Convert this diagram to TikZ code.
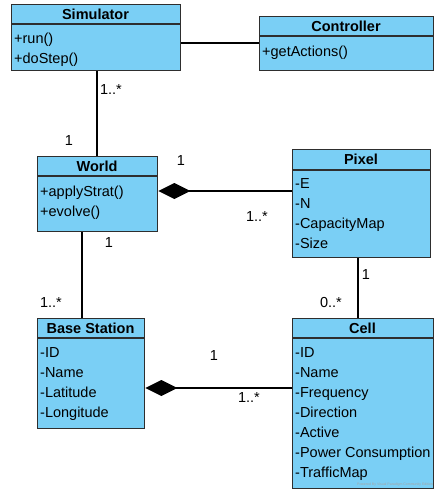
\documentclass[tikz,border=0pt]{standalone}
\usepackage{fontspec}
\setmainfont{Liberation Sans}
\usetikzlibrary{arrows.meta}
\definecolor{clsfill}{HTML}{7ACFF5}
\definecolor{clsline}{HTML}{2E2E2E}
\begin{document}
\begin{tikzpicture}[x=1pt,y=-1pt,
  clsbox/.style={draw=clsline, fill=clsfill, line width=1.3pt, inner sep=0pt, anchor=north west},
  septl/.style={draw=clsline, line width=1.3pt},
  titletext/.style={font=\fontsize{14.5}{17}\selectfont\bfseries, inner sep=0pt, text height=10.4pt, text depth=0pt},
  attr/.style={font=\fontsize{14.5}{17}\selectfont, inner sep=0pt, text height=10.4pt, text depth=0pt, anchor=west},
  mult/.style={font=\fontsize{14.5}{17}\selectfont, inner sep=0pt, text height=10.4pt, text depth=0pt},
  conn/.style={draw=black, line width=1.2pt},
  comp/.style={conn, -{Diamond[length=32pt,width=16pt]}}
]
\useasboundingbox (0,0) rectangle (434,491);

% Simulator
\node[clsbox, minimum width=169pt, minimum height=66pt] (sim) at (11,4) {};
\draw[septl] (sim.west |- 0,24) -- (sim.east |- 0,24);
\node[titletext] (simT) at (95.5,14.5) {Simulator};
\node[attr] (simA1) at (14,38.5) {+run()};
\node[attr] (simA2) at (14,58.5) {+doStep()};

% Controller
\node[clsbox, minimum width=174pt, minimum height=54pt] (ctrl) at (259,16) {};
\draw[septl] (ctrl.west |- 0,36) -- (ctrl.east |- 0,36);
\node[titletext] (ctrlT) at (346,26.5) {Controller};
\node[attr] (ctrlA1) at (262,51.5) {+getActions()};

% World
\node[clsbox, minimum width=120pt, minimum height=75pt] (world) at (37,156) {};
\draw[septl] (world.west |- 0,176) -- (world.east |- 0,176);
\node[titletext] (worldT) at (97,166.5) {World};
\node[attr] (worldA1) at (40,191.5) {+applyStrat()};
\node[attr] (worldA2) at (40,211.5) {+evolve()};

% Pixel
\node[clsbox, minimum width=138pt, minimum height=108pt] (pixel) at (292,149) {};
\draw[septl] (pixel.west |- 0,170) -- (pixel.east |- 0,170);
\node[titletext] (pixelT) at (361,159.5) {Pixel};
\node[attr] (pixelA1) at (295,183.5) {-E};
\node[attr] (pixelA2) at (295,203.5) {-N};
\node[attr] (pixelA3) at (295,223.5) {-CapacityMap};
\node[attr] (pixelA4) at (295,243.5) {-Size};

% Base Station
\node[clsbox, minimum width=107pt, minimum height=110pt] (base) at (37,318) {};
\draw[septl] (base.west |- 0,338) -- (base.east |- 0,338);
\node[titletext] (baseT) at (90.5,328.5) {Base Station};
\node[attr] (baseA1) at (40,352.5) {-ID};
\node[attr] (baseA2) at (40,372.5) {-Name};
\node[attr] (baseA3) at (40,392.5) {-Latitude};
\node[attr] (baseA4) at (40,412.5) {-Longitude};

% Cell
\node[clsbox, minimum width=141pt, minimum height=170pt] (cell) at (292,318) {};
\draw[septl] (cell.west |- 0,338) -- (cell.east |- 0,338);
\node[titletext] (cellT) at (362.5,328.5) {Cell};
\node[attr] (cellA1) at (295,352.5) {-ID};
\node[attr] (cellA2) at (295,372.5) {-Name};
\node[attr] (cellA3) at (295,392.5) {-Frequency};
\node[attr] (cellA4) at (295,412.5) {-Direction};
\node[attr] (cellA5) at (295,432.5) {-Active};
\node[attr] (cellA6) at (295,452.5) {-Power Consumption};
\node[attr] (cellA7) at (295,472.5) {-TrafficMap};
\node[font=\fontsize{3.5}{4}\selectfont, text=black!35, inner sep=0pt, anchor=east] (wm) at (433,485) {Powered By Visual Paradigm Community Edition};

% Connectors
\draw[conn] (sim.east |- 0,43) -- (ctrl.west |- 0,43);
\draw[conn] (sim.south -| 97,0) -- (world.north -| 97,0);
\draw[comp] (pixel.west |- 0,191) -- (world.east |- 0,191);
\draw[conn] (world.south -| 82,0) -- (base.north -| 82,0);
\draw[conn] (pixel.south -| 358,0) -- (cell.north -| 358,0);
\draw[comp] (cell.west |- 0,388) -- (base.east |- 0,388);

% Multiplicities
\node[mult] (m1) at (111,89) {1..*};
\node[mult] (m2) at (69,140) {1};
\node[mult] (m3) at (181,160) {1};
\node[mult] (m4) at (257,216) {1..*};
\node[mult] (m5) at (109,242) {1};
\node[mult] (m6) at (51,302) {1..*};
\node[mult] (m7) at (366,274) {1};
\node[mult] (m8) at (331,302) {0..*};
\node[mult] (m9) at (214,355) {1};
\node[mult] (m10) at (249,397) {1..*};
\end{tikzpicture}
\end{document}
